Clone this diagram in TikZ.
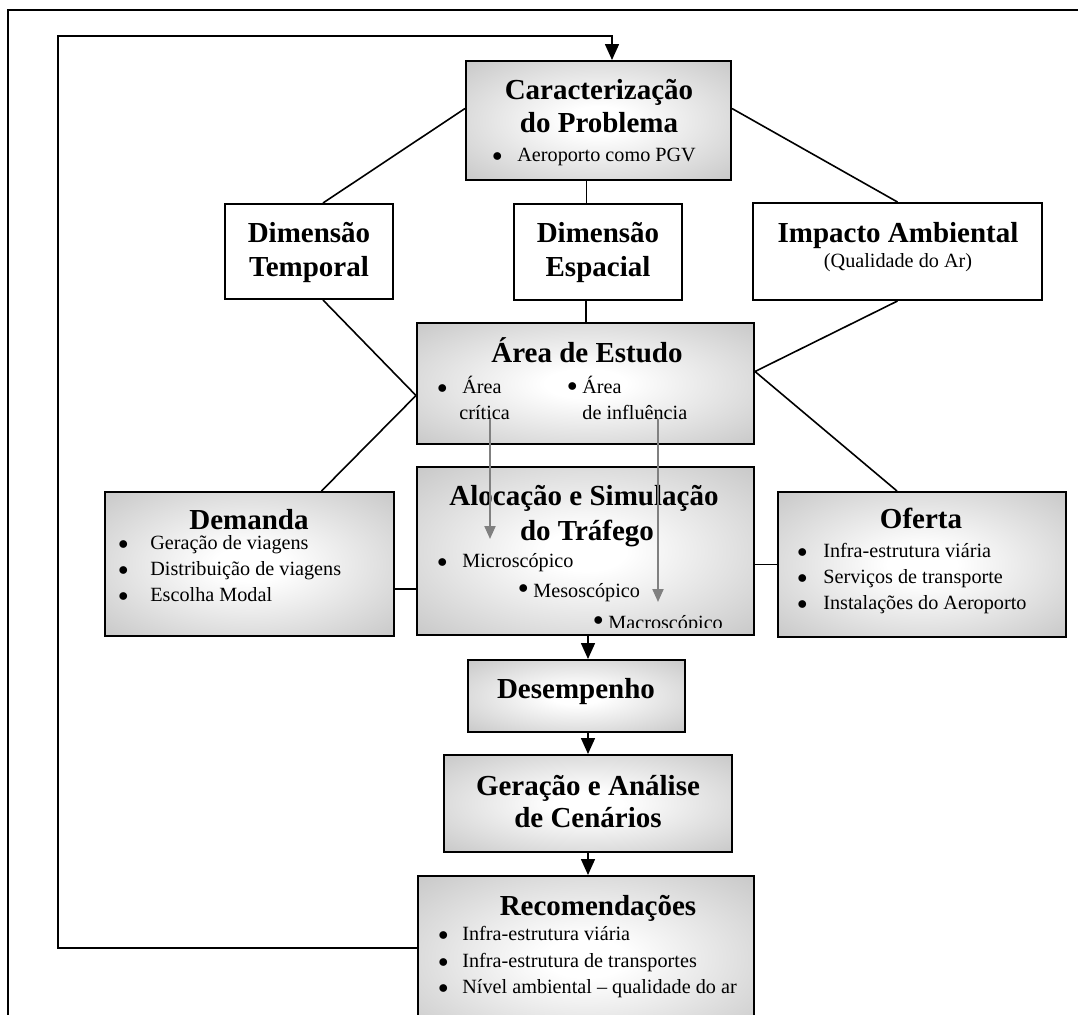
\documentclass[tikz,border=0pt]{standalone}
\usepackage{fontspec}
\setmainfont{Liberation Serif}
\usetikzlibrary{arrows.meta,positioning}
\definecolor{BoxGray}{RGB}{192,192,192}
\definecolor{HintGray}{RGB}{128,128,128}
\pgfdeclareradialshading{boxshade}{\pgfpoint{0bp}{0bp}}{color(0bp)=(white); color(6bp)=(white); color(40bp)=(BoxGray); color(50bp)=(BoxGray)}
\newcommand{\bul}[2][0pt]{\makebox[#2][l]{\raisebox{#1}{$\bullet$}}}
\tikzset{
  plainbox/.style={rectangle,draw,line width=1pt,inner sep=0pt},
  whitebox/.style={plainbox,fill=white},
  shadebox/.style={plainbox,shading=boxshade},
  title/.style={anchor=base,inner sep=0pt,font=\fontsize{14.5}{17}\selectfont\bfseries},
  item/.style={anchor=base west,inner sep=0pt,font=\fontsize{10.1}{12}\selectfont},
  link/.style={line width=0.8pt},
  flow/.style={line width=0.8pt,-{Triangle[width=7pt,length=8pt]}},
  hint/.style={line width=1pt,HintGray,-{Triangle[width=5.5pt,length=6.5pt]}}
}
\begin{document}
\begin{tikzpicture}[x=0.5pt,y=-0.5pt]
    \clip (0,0) rectangle (1078,1014);
    % outer frame
    \draw[line width=1pt] (8,10) rectangle (1100,1040);

    % boxes
    \node[shadebox,minimum width=132.5pt,minimum height=59.5pt] (caract) at (598.5,120.5) {};
    \node[whitebox,minimum width=84pt,minimum height=47.5pt] (temporal) at (309,251.5) {};
    \node[whitebox,minimum width=84pt,minimum height=48pt] (espacial) at (598,252) {};
    \node[whitebox,minimum width=144.5pt,minimum height=48.5pt] (impacto) at (897.5,251.5) {};
    \node[shadebox,minimum width=168.5pt,minimum height=60.5pt] (area) at (585.5,383.5) {};
    \node[shadebox,minimum width=168.5pt,minimum height=84pt] (alocacao) at (585.5,551) {};
    \node[shadebox,minimum width=144.5pt,minimum height=72pt] (demanda) at (249.5,564) {};
    \node[shadebox,minimum width=144pt,minimum height=72.5pt] (oferta) at (922,564.5) {};
    \node[shadebox,minimum width=108.5pt,minimum height=36pt] (desemp) at (576.5,696) {};
    \node[shadebox,minimum width=144pt,minimum height=48.5pt] (geracao) at (588,803.5) {};
    \node[shadebox,minimum width=168pt,minimum height=82pt] (recom) at (586,958) {};

    % texts
    \node[title] (caractT1) at (599,99) {Caracterização};
    \node[title] (caractT2) at (599,132) {do Problema};
    \node[item] (caractI) at (492,161) {\bul{12.5pt}Aeroporto como PGV};

    \node[title] (temporalT1) at (309,242) {Dimensão};
    \node[title] (temporalT2) at (309,276) {Temporal};
    \node[title] (espacialT1) at (598,242) {Dimensão};
    \node[title] (espacialT2) at (598,276) {Espacial};
    \node[title] (impactoT) at (898,242) {Impacto Ambiental};
    \node[item,anchor=base] (impactoS) at (898,267) {(Qualidade do Ar)};

    \node[title] (areaT) at (587,362) {Área de Estudo};
    \node[item] (areaI1) at (437,393) {\bul{12.5pt}Área};
    \node[item] (critica) at (459,419) {crítica};
    \node[item] (areaI2) at (567,393) {\bul[1pt]{7.5pt}Área};
    \node[item] (influencia) at (582,419) {de influência};

    \node[title] (alocT1) at (584,505) {Alocação e Simulação};
    \node[title] (alocT2) at (587,540) {do Tráfego};
    \node[item] (micro) at (437,567) {\bul{12.5pt}Microscópico};
    \node[item] (meso) at (518,597) {\bul[2pt]{7.5pt}Mesoscópico};
    \begin{scope}
        \clip (alocacao.north west) rectangle ([yshift=4.5pt]alocacao.south east);
        \node[item] (macro) at (593,629) {\bul[2pt]{7.5pt}Macroscópico};
    \end{scope}

    \node[title] (demandaT) at (249,529) {Demanda};
    \node[item] (demandaI1) at (118,549) {\bul{16pt}Geração de viagens};
    \node[item] (demandaI2) at (118,575) {\bul{16pt}Distribuição de viagens};
    \node[item] (demandaI3) at (118,601) {\bul{16pt}Escolha Modal};

    \node[title] (ofertaT) at (921,528) {Oferta};
    \node[item] (ofertaI1) at (797,557) {\bul{13pt}Infra-estrutura viária};
    \node[item] (ofertaI2) at (797,583) {\bul{13pt}Serviços de transporte};
    \node[item] (ofertaI3) at (797,609) {\bul{13pt}Instalações do Aeroporto};

    \node[title] (desempT) at (576,698) {Desempenho};
    \node[title] (geracaoT1) at (588,795) {Geração e Análise};
    \node[title] (geracaoT2) at (588,827) {de Cenários};

    \node[title] (recomT) at (598,915) {Recomendações};
    \node[item] (recomI1) at (438,940) {\bul{12pt}Infra-estrutura viária};
    \node[item] (recomI2) at (438,967) {\bul{12pt}Infra-estrutura de transportes};
    \node[item] (recomI3) at (438,993) {\bul{12pt}Nível ambiental – qualidade do ar};

    % links between boxes
    \coordinate (areaW) at ([yshift=-6pt]area.west);
    \coordinate (areaE) at ([yshift=6pt]area.east);
    \draw[link] ([yshift=6pt]caract.west) -- ([xshift=7pt]temporal.north);
    \draw[link] ([yshift=6pt]caract.east) -- (impacto.north);
    \draw[link] ([xshift=-6pt]caract.south) -- ([xshift=-6pt]caract.south |- espacial.north);
    \draw[link] ([xshift=-6pt]espacial.south) -- ([xshift=-6pt]espacial.south |- area.north);
    \draw[link] ([xshift=7pt]temporal.south) -- (areaW) -- ([xshift=36pt]demanda.north);
    \draw[link] (impacto.south) -- (areaE) -- ([xshift=-12.5pt]oferta.north);
    \draw[link] ([yshift=-12.5pt]demanda.east) -- ([yshift=-12.5pt]demanda.east -| alocacao.west);
    \draw[link] (oferta.west) -- (oferta.west -| alocacao.east);

    % main flow
    \draw[flow] ([xshift=1.25pt]alocacao.south) -- ([xshift=1.25pt]alocacao.south |- desemp.north);
    \draw[flow] (geracao.north |- desemp.south) -- (geracao.north);
    \draw[flow] (geracao.south) -- (geracao.south |- recom.north);

    % feedback loop
    \coordinate (loop) at (58,36);
    \draw[flow] ([yshift=5pt]recom.west) -| (loop) -| ([xshift=6.75pt]caract.north);

    % gray hints from study area
    \draw[hint] ([xshift=15.5pt]critica.base west) -- ++(0,120);
    \draw[hint] ([xshift=38pt]influencia.base west) -- ++(0,183);
\end{tikzpicture}
\end{document}
